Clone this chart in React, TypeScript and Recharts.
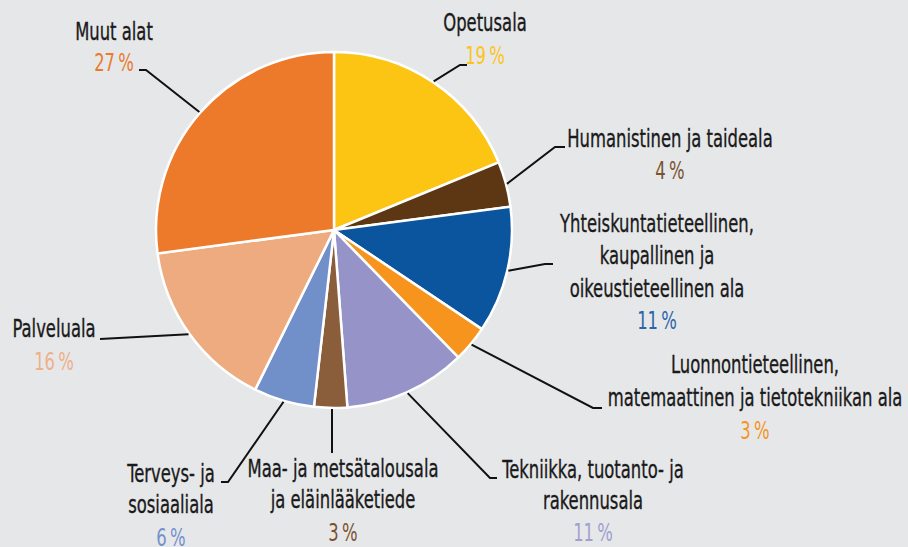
import React from 'react';
import { PieChart, Pie, Cell } from 'recharts';

const categories = [
  ['Opetusala'],
  ['Humanistinen ja taideala'],
  ['Yhteiskuntatieteellinen,', 'kaupallinen ja', 'oikeustieteellinen ala'],
  ['Luonnontieteellinen,', 'matemaattinen ja tietotekniikan ala'],
  ['Tekniikka, tuotanto- ja', 'rakennusala'],
  ['Maa- ja metsätalousala', 'ja eläinlääketiede'],
  ['Terveys- ja', 'sosiaaliala'],
  ['Palveluala'],
  ['Muut alat'],
];
const shares = [18.8, 4.1, 11.5, 3.3, 11.1, 3.0, 5.5, 15.6, 27.1];
const pctLabels = ['19', '4', '11', '3', '11', '3', '6', '16', '27'];

const sliceColors = ['#fdc513', '#5d3713', '#0b559f', '#f7941d', '#9593c8', '#8a5d3b', '#7190ca', '#eeab7f', '#ec7a2a'];
const pctColors = ['#fcc41a', '#7a5230', '#2d64a8', '#f7941d', '#a09fd0', '#7a5230', '#7391cc', '#eeb089', '#ea7a2c'];

const data = categories.map((c, i) => ({ name: c.join(' '), value: shares[i] }));

// label layout: text centre x, line baselines, percent baseline, leader-line end points
const layout = [
  { x: 485, ys: [31], py: 64, pts: [[460, 65], [467, 65]] },
  { x: 670, ys: [147], py: 179, pts: [[555, 147], [565, 147]] },
  { x: 657, ys: [232, 264, 297], py: 329, pts: [[545, 264], [553, 264]] },
  { x: 755, ys: [373, 406], py: 439, pts: [[593, 408], [602, 408]] },
  { x: 593, ys: [478, 509], py: 541, pts: [[490, 478], [497, 478]] },
  { x: 343, ys: [477, 508], py: 541, pts: [[332, 453]], vertical: true },
  { x: 171, ys: [482, 513], py: 546, pts: [[228, 482], [221, 482]] },
  { x: 54, ys: [337], py: 370, pts: [[100, 339]] },
  { x: 114, ys: [40], py: 71, pts: [[146, 70], [139, 70]] },
];

const FONT = "'DejaVu Sans Condensed', 'DejaVu Sans', sans-serif";
const FS = 25;
const SX = 0.73;
const RAD = Math.PI / 180;

const renderLabel = (props: any) => {
  const { cx, cy, midAngle, outerRadius, index } = props;
  const L = layout[index];
  const r = outerRadius + 1;
  let ax = cx + r * Math.cos(-midAngle * RAD);
  const ay = cy + r * Math.sin(-midAngle * RAD);
  if (L.vertical) ax = L.pts[0][0];
  const pts = [[ax, ay], ...L.pts].map((p) => p.join(',')).join(' ');
  return (
    <g key={'lbl' + index}>
      <polyline points={pts} fill="none" stroke="#111" strokeWidth={2} />
      {categories[index].map((line, j) => (
        <text
          key={j}
          x={0}
          y={0}
          transform={`translate(${L.x},${L.ys[j]}) scale(${SX},1)`}
          textAnchor="middle"
          fontFamily={FONT}
          fontSize={FS}
          fill="#1a1a1a"
          stroke="#1a1a1a"
          strokeWidth={0.35}
        >
          {line}
        </text>
      ))}
      <text
        x={0}
        y={0}
        transform={`translate(${L.x},${L.py}) scale(${SX},1)`}
        textAnchor="middle"
        fontFamily={FONT}
        fontSize={FS}
        fill={pctColors[index]}
      >
        {pctLabels[index] + '\u2009%'}
      </text>
    </g>
  );
};

export default function App() {
  return (
    <div style={{ position: 'fixed', left: 0, top: 0, width: 908, height: 547, background: '#e6e7e9' }}>
      <PieChart width={908} height={547} margin={{ top: 0, right: 0, bottom: 0, left: 0 }}>
        <Pie
          data={data}
          dataKey="value"
          nameKey="name"
          cx={334}
          cy={230}
          outerRadius={178}
          startAngle={90}
          endAngle={-270}
          stroke="#ffffff"
          strokeWidth={2.5}
          label={renderLabel}
          labelLine={false}
          isAnimationActive={false}
        >
          {data.map((d, i) => (
            <Cell key={d.name} fill={sliceColors[i]} />
          ))}
        </Pie>
      </PieChart>
    </div>
  );
}
